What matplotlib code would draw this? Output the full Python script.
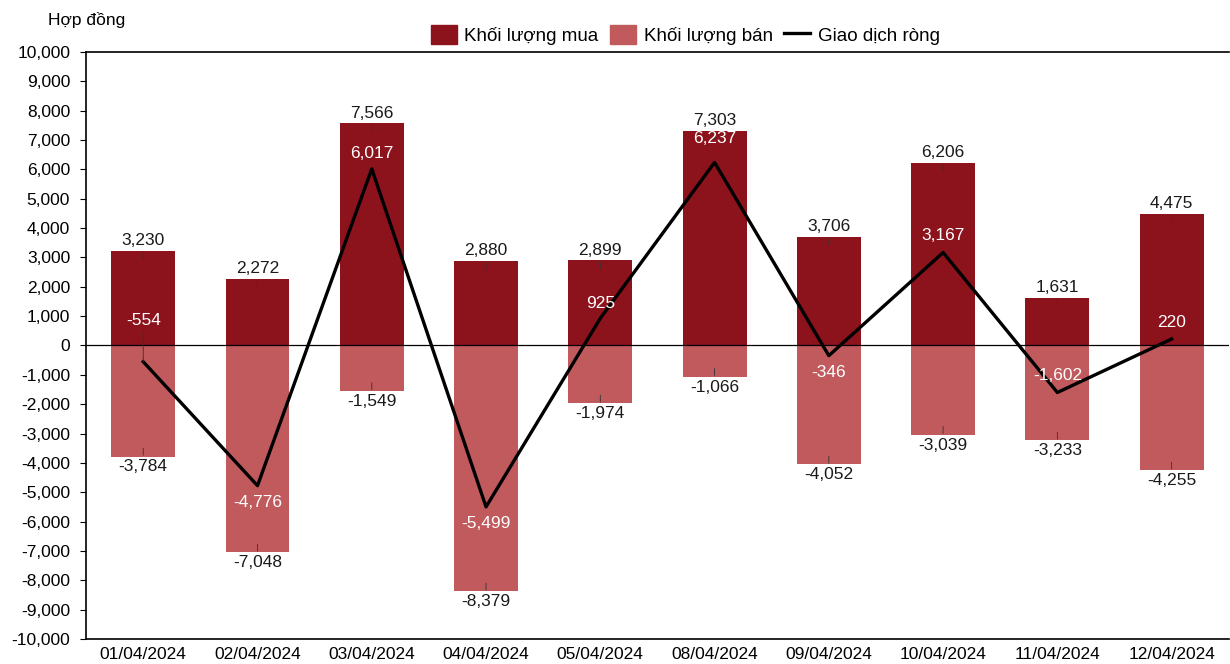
import numpy as np
import matplotlib.pyplot as plt
from matplotlib.ticker import FuncFormatter, MultipleLocator
from matplotlib.patches import Patch
from matplotlib.lines import Line2D

plt.rcParams['font.family'] = ['Liberation Sans', 'DejaVu Sans']

dates = ['01/04/2024', '02/04/2024', '03/04/2024', '04/04/2024', '05/04/2024',
         '08/04/2024', '09/04/2024', '10/04/2024', '11/04/2024', '12/04/2024']
buy = [3230, 2272, 7566, 2880, 2899, 7303, 3706, 6206, 1631, 4475]
sell = [-3784, -7048, -1549, -8379, -1974, -1066, -4052, -3039, -3233, -4255]
net = [-554, -4776, 6017, -5499, 925, 6237, -346, 3167, -1602, 220]

# label offsets for the net line (points)
net_dy = [30, -12, 11, -12, 11, 17, -12, 12, 12, 12]
net_leader = [True, False, False, False, False, False, False, False, False, False]

c_buy = '#8C121C'
c_sell = '#C15A5C'

fig = plt.figure(figsize=(12.3, 6.64), dpi=100)
ax = fig.add_axes([0.070, 0.0377, 0.929, 0.884])

x = np.arange(len(dates))
ax.bar(x, buy, width=0.56, color=c_buy, zorder=2)
ax.bar(x, sell, width=0.56, color=c_sell, zorder=2)
ax.axhline(0, color='black', lw=0.9, zorder=3)
ax.plot(x, net, color='black', lw=2.4, zorder=4)

fs = 12.5
lead = dict(arrowstyle='-', lw=0.6, color='#333333', shrinkA=1, shrinkB=0)
for i in x:
    ax.annotate(f'{buy[i]:,}', xy=(i, buy[i] - 280), xytext=(0, 8), textcoords='offset points',
                ha='center', va='bottom', fontsize=fs, color='#1a1a1a', arrowprops=lead, zorder=5)
    ax.annotate(f'{sell[i]:,}', xy=(i, sell[i] + 280), xytext=(0, -8), textcoords='offset points',
                ha='center', va='top', fontsize=fs, color='#1a1a1a', arrowprops=lead, zorder=5)
    ax.annotate(f'{net[i]:,}', xy=(i, net[i]), xytext=(0, net_dy[i]), textcoords='offset points',
                ha='center', va='center', fontsize=fs, color='white',
                arrowprops=lead if net_leader[i] else None, zorder=6)

ax.set_xlim(-0.5, len(dates) - 0.5)
ax.set_ylim(-10000, 10000)
ax.yaxis.set_major_locator(MultipleLocator(1000))
ax.yaxis.set_major_formatter(FuncFormatter(lambda v, p: f'{int(v):,}'))
ax.set_xticks(x)
ax.set_xticklabels(dates)
ax.tick_params(axis='x', length=0, labelsize=fs, pad=6)
ax.tick_params(axis='y', length=4.5, labelsize=fs, width=0.8, pad=7)
for s in ['top', 'bottom', 'left']:
    ax.spines[s].set_linewidth(1.2)
ax.spines['right'].set_visible(False)

fig.text(0.039, 0.970, 'Hợp đồng', fontsize=fs, ha='left', va='center')

handles = [Patch(color=c_buy, label='Khối lượng mua'),
           Patch(color=c_sell, label='Khối lượng bán'),
           Line2D([0], [0], color='black', lw=2.4, label='Giao dịch ròng')]
fig.legend(handles=handles, loc='center', bbox_to_anchor=(0.557, 0.947), ncol=3, frameon=False,
           fontsize=13.5, handlelength=1.4, handleheight=1.2, columnspacing=0.6, handletextpad=0.4)

fig.savefig('out.png', dpi=100)
